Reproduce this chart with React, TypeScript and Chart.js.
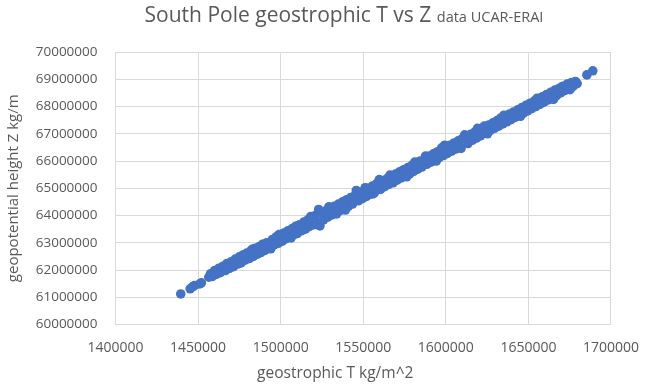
import React, { useEffect, useRef } from 'react';
import { Chart, registerables } from 'chart.js';

Chart.register(...registerables);

const TITLE_MAIN = 'South Pole geostrophic T vs Z';
const TITLE_SUB = 'data UCAR-ERAI';
const X_TITLE = 'geostrophic T kg/m^2';
const Y_TITLE = 'geopotential height Z kg/m';

const X_MIN = 1400000;
const X_MAX = 1700000;
const X_STEP = 50000;
const Y_MIN = 60000000;
const Y_MAX = 70000000;
const Y_STEP = 1000000;

// geostrophic T (kg/m^2)
const T_VALUES = [
  1439500, 1445200, 1446600, 1447800, 1451000, 1452000, 1456500, 1457500, 1458500, 1460000,
  1461000, 1462500, 1463500, 1465000, 1466500, 1467500, 1469000, 1470000, 1471500, 1472500,
  1474000, 1475000, 1476000, 1477500, 1478500, 1479500, 1481000, 1482000, 1483500, 1484500,
  1486000, 1487000, 1488000, 1489000, 1490500, 1491500, 1493000, 1494000, 1495000, 1496000,
  1497500, 1498500, 1500000, 1501000, 1502000, 1503000, 1504500, 1505500, 1507000, 1508000,
  1509000, 1510000, 1511500, 1512500, 1514000, 1515000, 1516500, 1517500, 1519000, 1520000,
  1521000, 1522000, 1523000, 1523800, 1525000, 1526000, 1527500, 1528500, 1530000, 1531000,
  1532500, 1533900, 1535000, 1536000, 1537500, 1538500, 1540000, 1541000, 1542500, 1543500,
  1545000, 1545800, 1547000, 1548000, 1549500, 1550500, 1552000, 1553000, 1554500, 1555500,
  1557000, 1558000, 1559700, 1560500, 1562000, 1563000, 1564500, 1565500, 1567000, 1568000,
  1569500, 1570500, 1572000, 1573000, 1574500, 1575500, 1577000, 1578000, 1579500, 1580500,
  1582000, 1583000, 1584500, 1585500, 1587700, 1588500, 1590000, 1591000, 1592500, 1593500,
  1595000, 1596000, 1597500, 1598500, 1600000, 1601000, 1602500, 1603500, 1605000, 1606000,
  1607500, 1608500, 1610000, 1611400, 1612400, 1613400, 1615000, 1616000, 1617500, 1618500,
  1620000, 1621000, 1622500, 1623300, 1624500, 1626000, 1627000, 1628500, 1629500, 1631000,
  1632000, 1633300, 1634500, 1636000, 1637000, 1638500, 1639500, 1641000, 1642000, 1643500,
  1644500, 1646000, 1647000, 1648500, 1649500, 1651000, 1652000, 1653500, 1654500, 1656000,
  1657000, 1658500, 1659500, 1661000, 1662000, 1663500, 1664500, 1666000, 1667000, 1668500,
  1669500, 1671000, 1672000, 1673500, 1674500, 1676000, 1677000, 1678500, 1679500, 1685400,
  1689000,
  1482700, 1499000, 1506300, 1518200, 1529200, 1539200, 1551200, 1556300, 1566200, 1576300,
  1581200, 1594200, 1599300, 1609200, 1619200, 1625200, 1635200, 1645200, 1655200, 1665200,
  1670200, 1675200,
];

// geopotential height Z (kg/m)
const Z_VALUES = [
  61120000, 61310000, 61380000, 61430000, 61490000, 61530000, 61740000, 61860000, 61760000, 61980000,
  61840000, 62060000, 61900000, 62140000, 61980000, 62240000, 62060000, 62300000, 62120000, 62400000,
  62220000, 62480000, 62260000, 62560000, 62360000, 62620000, 62420000, 62700000, 62500000, 62800000,
  62580000, 62860000, 62640000, 62940000, 62720000, 63000000, 62840000, 62780000, 63120000, 62920000,
  63220000, 62980000, 63300000, 63060000, 63360000, 63140000, 63440000, 63200000, 63520000, 63300000,
  63600000, 63340000, 63660000, 63440000, 63760000, 63500000, 63840000, 63600000, 63920000, 63660000,
  64000000, 63720000, 64220000, 63620000, 64100000, 63840000, 64180000, 63940000, 64260000, 64020000,
  64340000, 64060000, 64420000, 64180000, 64500000, 64280000, 64580000, 64340000, 64660000, 64420000,
  64740000, 64920000, 64540000, 64840000, 64620000, 64920000, 64700000, 65000000, 64780000, 65080000,
  64860000, 65160000, 65320000, 64960000, 65280000, 65060000, 65360000, 65140000, 65440000, 65200000,
  65520000, 65300000, 65600000, 65380000, 65680000, 65460000, 65760000, 65520000, 65840000, 65620000,
  65920000, 65700000, 66000000, 65780000, 66180000, 65880000, 66180000, 65960000, 66260000, 66040000,
  66340000, 66120000, 66480000, 66200000, 66500000, 66280000, 66580000, 66360000, 66660000, 66440000,
  66740000, 66520000, 66820000, 66960000, 66800000, 66640000, 66980000, 66760000, 67060000, 66840000,
  67140000, 66920000, 67220000, 67280000, 67040000, 67320000, 67120000, 67400000, 67200000, 67480000,
  67280000, 67580000, 67360000, 67640000, 67440000, 67720000, 67520000, 67800000, 67600000, 67880000,
  67680000, 67960000, 67760000, 68040000, 67840000, 68120000, 67920000, 68200000, 68000000, 68280000,
  68080000, 68360000, 68160000, 68440000, 68240000, 68520000, 68320000, 68600000, 68400000, 68660000,
  68500000, 68740000, 68580000, 68820000, 68660000, 68880000, 68740000, 68920000, 68840000, 69160000,
  69310000,
  62760000, 63300000, 63180000, 63960000, 64320000, 64200000, 65020000, 64800000, 65480000, 65420000,
  65960000, 66000000, 66580000, 66460000, 67200000, 67000000, 67680000, 67640000, 68300000, 68260000,
  68720000, 68620000,
];

const TEXT_COLOR = '#595959';
const GRID_COLOR = '#d9d9d9';
const MARKER_COLOR = '#4472C4';
const FONT_FAMILY = '"Open Sans", "Noto Sans", sans-serif';

const textPlugin = {
  id: 'customTexts',
  afterDraw(chart: any) {
    const { ctx, chartArea } = chart;
    ctx.save();
    ctx.fillStyle = TEXT_COLOR;
    ctx.textBaseline = 'alphabetic';
    ctx.textAlign = 'left';
    const mainFont = `21px ${FONT_FAMILY}`;
    const subFont = `14.5px ${FONT_FAMILY}`;
    ctx.font = mainFont;
    const w1 = ctx.measureText(TITLE_MAIN + ' ').width;
    ctx.font = subFont;
    const w2 = ctx.measureText(TITLE_SUB).width;
    const cx = 344;
    const start = cx - (w1 + w2) / 2;
    ctx.font = mainFont;
    ctx.fillText(TITLE_MAIN + ' ', start, 22);
    ctx.font = subFont;
    ctx.fillText(TITLE_SUB, start + w1, 22);

    ctx.font = `15.5px ${FONT_FAMILY}`;
    ctx.textAlign = 'center';
    ctx.textBaseline = 'middle';
    const axisCenter = (chartArea.left + chartArea.right) / 2 - 28;
    ctx.fillText(X_TITLE, axisCenter, 374);
    ctx.restore();
  },
};

export default function App() {
  const canvasRef = useRef<HTMLCanvasElement | null>(null);

  useEffect(() => {
    document.body.style.margin = '0';
    const canvas = canvasRef.current;
    if (!canvas) return;
    const points = T_VALUES.map((t, i) => ({ x: t, y: Z_VALUES[i] }));
    const chart = new Chart(canvas, {
      type: 'scatter',
      data: {
        datasets: [
          {
            label: 'Z',
            data: points,
            backgroundColor: MARKER_COLOR,
            borderColor: MARKER_COLOR,
            pointRadius: 4.8,
            pointBorderWidth: 0,
          },
        ],
      },
      options: {
        responsive: false,
        animation: false,
        layout: { padding: { left: 0, right: 35.5, top: 52, bottom: 0 } },
        plugins: {
          legend: { display: false },
          tooltip: { enabled: false },
          title: { display: false },
        },
        scales: {
          x: {
            type: 'linear',
            min: X_MIN,
            max: X_MAX,
            afterFit: (s: any) => {
              s.height = 63.5;
            },
            ticks: {
              stepSize: X_STEP,
              padding: 15,
              color: TEXT_COLOR,
              font: { family: FONT_FAMILY, size: 14 },
              callback: (v: any) => String(v),
              maxRotation: 0,
            },
            grid: { color: GRID_COLOR, drawTicks: false, lineWidth: 1 },
            border: { color: GRID_COLOR },
          },
          y: {
            type: 'linear',
            min: Y_MIN,
            max: Y_MAX,
            afterFit: (s: any) => {
              s.width = 115.5;
            },
            ticks: {
              stepSize: Y_STEP,
              padding: 18,
              color: TEXT_COLOR,
              font: { family: FONT_FAMILY, size: 13.5 },
              callback: (v: any) => String(v),
            },
            grid: { color: GRID_COLOR, drawTicks: false, lineWidth: 1 },
            border: { color: GRID_COLOR },
            title: {
              display: true,
              text: Y_TITLE,
              color: TEXT_COLOR,
              font: { family: FONT_FAMILY, size: 15 },
              padding: { top: 5, bottom: 0 },
            },
          },
        },
      },
      plugins: [textPlugin],
    });
    return () => chart.destroy();
  }, []);

  return (
    <div style={{ position: 'absolute', left: 0, top: 0, width: 654, height: 388, background: '#fff' }}>
      <canvas ref={canvasRef} width={654} height={388} />
    </div>
  );
}
